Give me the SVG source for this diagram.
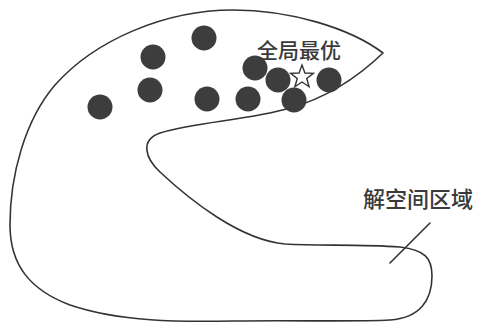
<svg xmlns="http://www.w3.org/2000/svg" width="484" height="332" viewBox="0 0 484 332">
<style>
.pt{fill:#3d3d3d}
.lbl{font-family:"Noto Sans CJK SC","Noto Sans CJK JP",sans-serif;fill:#3a3a3a;font-weight:500}
.ln{fill:none;stroke:#333;stroke-width:1.6;stroke-linejoin:round;stroke-linecap:round}
</style>
<rect width="484" height="332" fill="#fff"/>
<g id="region">
<path class="ln" d="M383,53 C350,28 290,10 233,10 C165,10 95,40 55,85 C25,120 10,175 10,225 C10,265 30,290 70,305 C120,322 180,322 233,321 C300,320 350,322 390,320 C420,318 432,300 432,276 C432,258 425,250 400,247 C360,244 320,246 285,244 C240,240 190,200 160,172 C145,158 140,140 160,133 C195,122 250,120 290,108 C330,97 360,75 383,53 Z"/>
</g>
<g id="points">
<circle class="pt" cx="100" cy="107" r="12.5"/>
<circle class="pt" cx="153" cy="57" r="12.5"/>
<circle class="pt" cx="150" cy="90" r="12.5"/>
<circle class="pt" cx="204" cy="38" r="12.5"/>
<circle class="pt" cx="207" cy="99" r="12.5"/>
<circle class="pt" cx="248" cy="99" r="12.5"/>
<circle class="pt" cx="255" cy="68" r="12.5"/>
<circle class="pt" cx="278" cy="80" r="12.5"/>
<circle class="pt" cx="294" cy="100" r="12.5"/>
<circle class="pt" cx="329" cy="80" r="12.5"/>
</g>
<g id="optimum">
<polygon points="302,65 304.94,72.95 313.41,73.29 306.76,78.55 309.05,86.71 302,82 294.95,86.71 297.24,78.55 290.59,73.29 299.06,72.95" fill="#fff" stroke="#333" stroke-width="1.4" stroke-linejoin="miter"/>
<text class="lbl" x="257" y="58" font-size="21">全局最优</text>
</g>
<g id="connectors">
<line class="ln" x1="430" y1="223" x2="390" y2="263"/>
</g>
<g id="region-label">
<text class="lbl" x="363" y="207" font-size="22">解空间区域</text>
</g>
</svg>
